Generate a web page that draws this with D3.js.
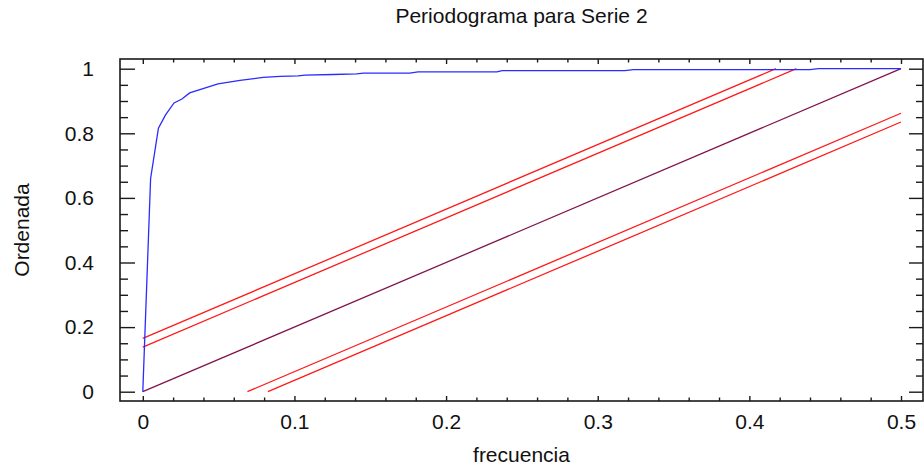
<!DOCTYPE html>
<html lang="es">
<head>
<meta charset="UTF-8">
<title>Periodograma para Serie 2</title>
<script src="https://cdnjs.cloudflare.com/ajax/libs/d3/7.8.5/d3.min.js"></script>
<style>
html, body { margin: 0; padding: 0; background: #fff; }
svg { display: block; font-family: 'Liberation Sans', Arial, sans-serif; }
.frame { fill: none; stroke: #1a1a1a; stroke-width: 1.6; }
.tick line { stroke: #1a1a1a; stroke-width: 1.4; }
.tick text { font-size: 21px; fill: #111; }
</style>
</head>
<body>
<svg id="chart" width="924" height="467"></svg>
<script>
// cumulative periodogram (vertices of the polyline)
const frecuencia = [0, 0.00515, 0.0103, 0.0150, 0.0206, 0.0258, 0.0309, 0.0496, 0.0641,
  0.0793, 0.0905, 0.1024, 0.107, 0.1255, 0.141, 0.1455, 0.176, 0.1815, 0.2335, 0.237,
  0.318, 0.3235, 0.44, 0.4455, 0.5];
const ordenada = [0, 0.66, 0.816, 0.857, 0.894, 0.906, 0.925, 0.953, 0.964,
  0.973, 0.976, 0.978, 0.980, 0.982, 0.984, 0.986, 0.986, 0.990, 0.990, 0.994,
  0.994, 0.997, 0.997, 1.0, 1.0];

// Kolmogorov-Smirnov bands around the white-noise line (99% and 95%)
const ksLimits = [0.165, 0.138];

const xTicks = [0, 0.1, 0.2, 0.3, 0.4, 0.5];
const yTicks = [0, 0.2, 0.4, 0.6, 0.8, 1];

const svg = d3.select('#chart');
const frame = { left: 120, right: 923, top: 59, bottom: 401 };

const x = d3.scaleLinear().domain([0, 0.5]).range([142.8, 901]);
const y = d3.scaleLinear().domain([0, 1]).range([391.7, 68.7]);

const fmt = d => d === 0 ? '0' : d3.format('.1~f')(d);

// minor ticks
const xMinor = d3.range(0, 0.5001, 0.02).filter(v => Math.abs(v * 10 - Math.round(v * 10)) > 1e-6);
const yMinor = d3.range(0, 1.0001, 0.05).filter(v => Math.abs(v * 5 - Math.round(v * 5)) > 1e-6);

function axis(gen, tr, cls) {
  const g = svg.append('g').attr('class', cls).attr('transform', tr).call(gen);
  g.select('.domain').remove();
  return g;
}

// bottom
axis(d3.axisBottom(x).tickValues(xTicks).tickFormat(fmt).tickSize(-5).tickPadding(13),
  `translate(0,${frame.bottom})`, 'x-axis')
  .selectAll('text').attr('dy', '0.71em');
axis(d3.axisBottom(x).tickValues(xMinor).tickFormat('').tickSize(-3.5),
  `translate(0,${frame.bottom})`, 'x-minor');
// top
axis(d3.axisTop(x).tickValues(xTicks).tickFormat('').tickSize(-5),
  `translate(0,${frame.top})`, 'x-top');
axis(d3.axisTop(x).tickValues(xMinor).tickFormat('').tickSize(-3.5),
  `translate(0,${frame.top})`, 'x-top-minor');
// left
axis(d3.axisLeft(y).tickValues(yTicks).tickFormat(fmt).tickSize(-15).tickPadding(26),
  `translate(${frame.left},0)`, 'y-axis');
axis(d3.axisLeft(y).tickValues(yMinor).tickFormat('').tickSize(-8),
  `translate(${frame.left},0)`, 'y-minor');
// right
axis(d3.axisRight(y).tickValues(yTicks).tickFormat('').tickSize(-14),
  `translate(${frame.right},0)`, 'y-right');
axis(d3.axisRight(y).tickValues(yMinor).tickFormat('').tickSize(-7),
  `translate(${frame.right},0)`, 'y-right-minor');

svg.append('rect').attr('class', 'frame')
  .attr('x', frame.left).attr('y', frame.top)
  .attr('width', frame.right - frame.left).attr('height', frame.bottom - frame.top);

const line = d3.line().x(d => x(d[0])).y(d => y(d[1]));
const plot = svg.append('g');

// bands: y = 2f + c (upper) and y = 2f - c (lower), kept inside [0,0.5]x[0,1]
ksLimits.forEach(c => {
  plot.append('path')
    .datum([[0, c], [(1 - c) / 2, 1]])
    .attr('d', line).attr('fill', 'none').attr('stroke', '#ff1a1a').attr('stroke-width', 1.3);
  plot.append('path')
    .datum([[c / 2, 0], [0.5, 1 - c]])
    .attr('d', line).attr('fill', 'none').attr('stroke', '#ff1a1a').attr('stroke-width', 1.3);
});

// white-noise reference
plot.append('path')
  .datum([[0, 0], [0.5, 1]])
  .attr('d', line).attr('fill', 'none').attr('stroke', '#80154f').attr('stroke-width', 1.3);

// cumulative periodogram
plot.append('path')
  .datum(frecuencia.map((f, i) => [f, ordenada[i]]))
  .attr('d', line).attr('fill', 'none').attr('stroke', '#2b2bff').attr('stroke-width', 1.3);

svg.append('text')
  .attr('x', (frame.left + frame.right) / 2).attr('y', 23)
  .attr('text-anchor', 'middle').attr('font-size', 21).attr('fill', '#111')
  .text('Periodograma para Serie 2');

svg.append('text')
  .attr('x', (frame.left + frame.right) / 2).attr('y', 462)
  .attr('text-anchor', 'middle').attr('font-size', 21).attr('fill', '#111')
  .text('frecuencia');

svg.append('text')
  .attr('transform', `translate(29,${(frame.top + frame.bottom) / 2}) rotate(-90)`)
  .attr('text-anchor', 'middle').attr('font-size', 21).attr('fill', '#111')
  .text('Ordenada');
</script>
</body>
</html>
